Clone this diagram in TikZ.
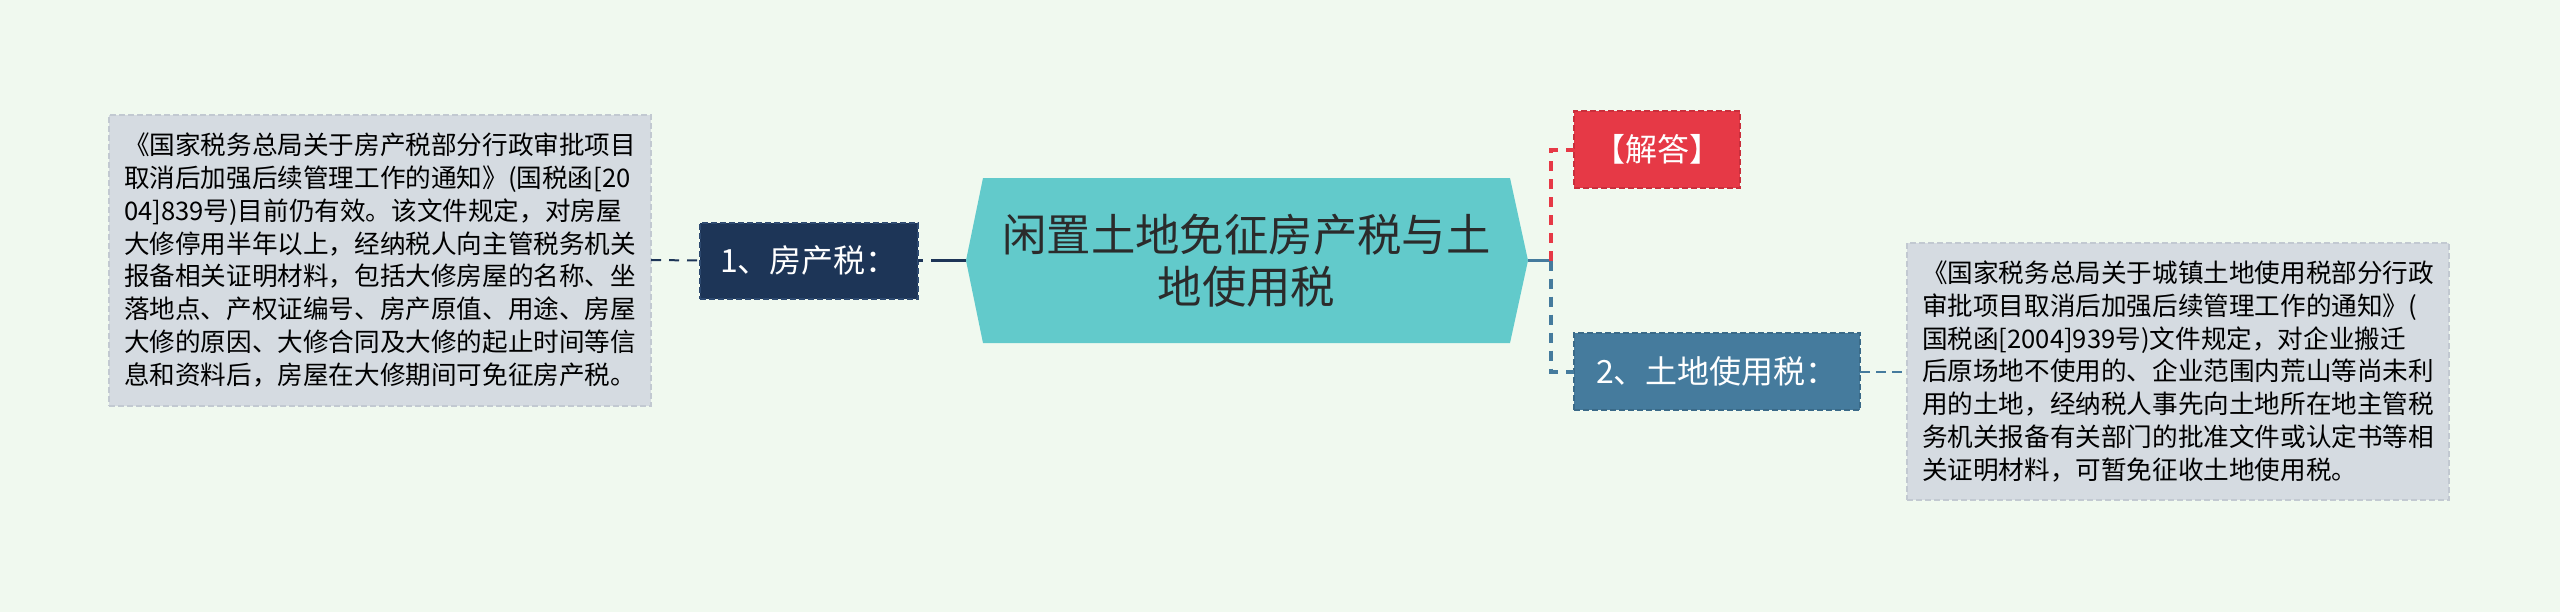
\documentclass[tikz,border=0pt]{standalone}
\usepackage{fontspec}
\setmainfont{Noto Sans CJK SC}
\definecolor{bgc}{HTML}{F0F9EF}
\definecolor{boxc}{HTML}{D5DBE1}
\definecolor{boxb}{HTML}{C2C9D1}
\definecolor{navy}{HTML}{1D3557}
\definecolor{navyb}{HTML}{2E4A70}
\definecolor{teal}{HTML}{62CACB}
\definecolor{redc}{HTML}{E63946}
\definecolor{redb}{HTML}{C92F3C}
\definecolor{bluec}{HTML}{457B9D}
\definecolor{blueb}{HTML}{3A6A88}
\definecolor{txt}{HTML}{2B2B2B}
\tikzset{
  base/.style={inner sep=0pt, outer sep=0pt, line width=1pt, dash pattern=on 3pt off 1.5pt},
  textbox/.style={base, fill=boxc, draw=boxb, text=black, align=left,
    font=\fontsize{12.8}{16.4}\selectfont},
  topic/.style={base, align=center, text=white, font=\fontsize{16}{19}\selectfont},
  link/.style={line width=1pt, dash pattern=on 5pt off 4pt}
}
\begin{document}
\begin{tikzpicture}[x=0.5pt,y=-0.5pt]
\fill[bgc] (0,0) rectangle (2560,612);
\useasboundingbox (0,0) rectangle (2560,612);

% central topic
\node[inner sep=0pt, outer sep=0pt, minimum width=263.5pt, minimum height=82.5pt] (c) at (1246.5,260.5) {};
\coordinate (cl) at ([xshift=-8.5pt]c.west);
\coordinate (cr) at ([xshift=9pt]c.east);
\fill[teal] (c.north west) -- (c.north east) -- (cr) -- (c.south east) -- (c.south west) -- (cl) -- cycle;
\node[align=center, text=txt, font=\fontsize{22.2}{26}\selectfont] (ct) at (c.center) {闲置土地免征房产税与土\\地使用税};

% left branch
\node[topic, fill=navy, draw=navyb, minimum width=109pt, minimum height=38pt] (b1) at (809,260.5) {1、房产税：};
\node[textbox, minimum width=271pt, minimum height=145.5pt] (lt) at (380,260) {%
《国家税务总局关于房产税部分行政审批项目\\
取消后加强后续管理工作的通知》(国税函[20\\
04]839号)目前仍有效。该文件规定，对房屋\\
大修停用半年以上，经纳税人向主管税务机关\\
报备相关证明材料，包括大修房屋的名称、坐\\
落地点、产权证编号、房产原值、用途、房屋\\
大修的原因、大修合同及大修的起止时间等信\\
息和资料后，房屋在大修期间可免征房产税。};

% right branches
\node[topic, fill=redc, draw=redb, minimum width=83pt, minimum height=38.5pt] (ans) at (1657,149.5) {【解答】};
\node[topic, fill=bluec, draw=blueb, minimum width=143pt, minimum height=38.5pt] (b2) at (1717,371.5) {2、土地使用税：};
\node[textbox, minimum width=271pt, minimum height=128.5pt] (rt) at (2178,371.5) {%
《国家税务总局关于城镇土地使用税部分行政\\
审批项目取消后加强后续管理工作的通知》(\\
国税函[2004]939号)文件规定，对企业搬迁\\
后原场地不使用的、企业范围内荒山等尚未利\\
用的土地，经纳税人事先向土地所在地主管税\\
务机关报备有关部门的批准文件或认定书等相\\
关证明材料，可暂免征收土地使用税。};

\coordinate (j) at (1551,260.5);

% connectors
\draw[navy, link] (lt.east) -- (b1.west);
\draw[navy, line width=1.75pt, dash pattern=on 2.5pt off 4pt on 20pt off 0pt] (b1.east) -- (cl);
\draw[bluec, line width=1.5pt] (cr) -- (j);
\draw[redc, line width=2pt, dash pattern=on 5pt off 4pt] (j) |- (ans.west);
\draw[bluec, line width=2pt, dash pattern=on 5pt off 4pt] (j) |- (b2.west);
\draw[bluec, line width=1pt, dash pattern=on 5pt off 3pt] (b2.east) -- (rt.west);
\end{tikzpicture}
\end{document}
